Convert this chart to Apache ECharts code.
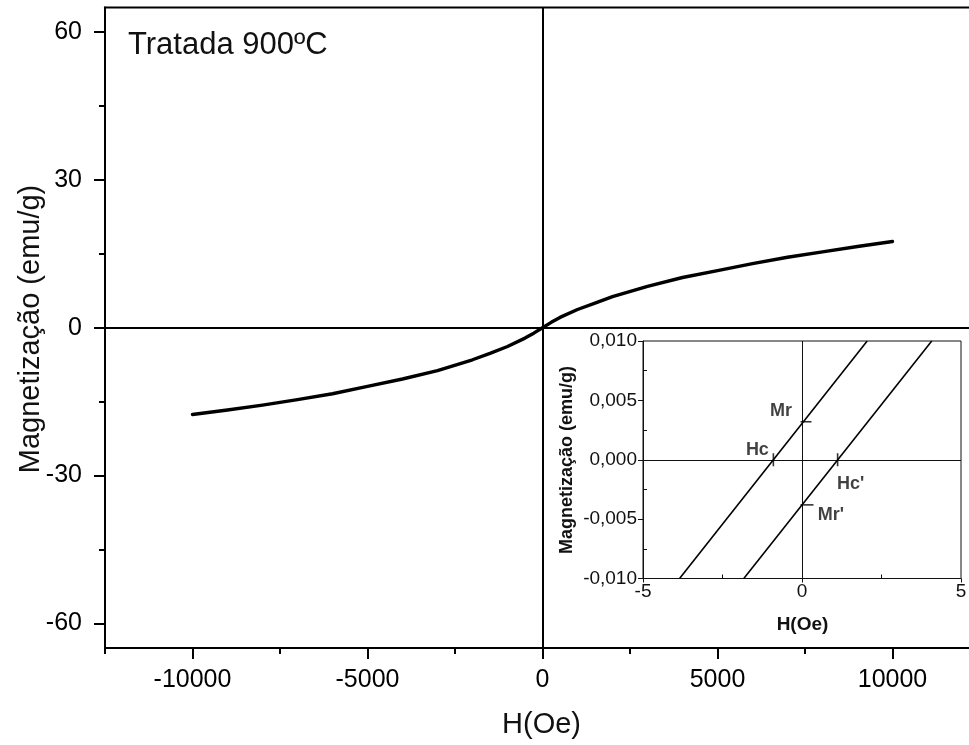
<!DOCTYPE html>
<html>
<head>
<meta charset="utf-8">
<script src="https://cdn.jsdelivr.net/npm/echarts@6/dist/echarts.min.js"></script>
<style>
html,body{margin:0;padding:0;background:#fff;}
#chart{width:969px;height:745px;}
</style>
</head>
<body>
<div id="chart"></div>
<script>
// ---- Main hysteresis curve (H in Oe, M in emu/g) ----
const mainH = [-10000,-9000,-8000,-7000,-6000,-5000,-4000,-3000,-2000,-1500,-1000,-500,-250,0,250,500,1000,1500,2000,3000,4000,5000,6000,7000,8000,9000,10000];
const mainM = [-17.6,-16.7,-15.7,-14.6,-13.4,-11.9,-10.4,-8.7,-6.5,-5.2,-3.8,-2.1,-1.1,0,1.1,2.1,3.7,5.0,6.3,8.4,10.2,11.6,13.0,14.3,15.4,16.5,17.5];
const mainXMajor = [-10000,-5000,0,5000,10000];
const mainXMinor = [-12500,-7500,-2500,2500,7500,12500];
const mainYMajor = [-60,-30,0,30,60];
const mainYMinor = [-45,-15,15,45];

// ---- Inset (zoom near origin) ----
const insetBranch1H = [-3.85, 2.05];
const insetBranch1M = [-0.010, 0.010];
const insetBranch2H = [-1.83, 4.08];
const insetBranch2M = [-0.010, 0.010];
const insetXMajor = [-5, 0, 5];
const insetXMinor = [-2.5, 2.5];
const insetYMajor = [-0.010, -0.005, 0, 0.005, 0.010];
const insetYMinor = [-0.0075, -0.0025, 0.0025, 0.0075];
const markerNames = ['Hc', 'Mr', "Hc'", "Mr'"];
const markerH = [-0.9, 0, 1.12, 0];
const markerM = [0, 0.0032, 0, -0.0038];

const FONT = '"Liberation Sans", Arial, sans-serif';
const zip = (a, b) => a.map((v, i) => [v, b[i]]);

const chart = echarts.init(document.getElementById('chart'), null, {renderer: 'canvas'});

const markerSym = [
  {symbol: 'rect', symbolSize: [1.6, 13], symbolOffset: [0, 0]},
  {symbol: 'rect', symbolSize: [11, 1.6], symbolOffset: [4, 0]},
  {symbol: 'rect', symbolSize: [1.6, 13], symbolOffset: [0, 0]},
  {symbol: 'rect', symbolSize: [13, 1.6], symbolOffset: [5, 0]}
];
const labelOffsets = [[-16, -10], [-21, -11], [13, 24], [29, 10]];

const plainFmt = v => String(v);

const option = {
  animation: false,
  backgroundColor: '#fff',
  grid: [
    {left: 105, top: 7.5, width: 875, bottom: 97, containLabel: false, outerBoundsMode: 'none',
      show: true, borderColor: '#000', borderWidth: 2, backgroundColor: 'transparent'},
    {left: 643, top: 341, width: 318, height: 237.5, containLabel: false, outerBoundsMode: 'none',
      show: true, borderColor: '#111', borderWidth: 1, backgroundColor: '#fff', z: 5}
  ],
  xAxis: [
    {
      gridIndex: 0, type: 'value', min: -12500, max: 12500, position: 'bottom',
      axisLine: {show: true, onZero: false, lineStyle: {color: '#000', width: 2}},
      axisTick: {show: true, inside: false, length: 11, lineStyle: {color: '#000', width: 2}, customValues: mainXMajor},
      axisLabel: {show: true, customValues: mainXMajor, formatter: plainFmt, margin: 20, fontSize: 25, color: '#000', fontFamily: FONT},
      splitLine: {show: false}
    },
    {
      gridIndex: 0, type: 'value', min: -12500, max: 12500, position: 'bottom',
      axisLine: {show: false, onZero: false},
      axisTick: {show: true, inside: false, length: 6, lineStyle: {color: '#000', width: 2}, customValues: mainXMinor},
      axisLabel: {show: false},
      splitLine: {show: false}
    },
    {
      gridIndex: 1, type: 'value', min: -5, max: 5, position: 'bottom',
      axisLine: {show: true, onZero: false, lineStyle: {color: '#111', width: 1}},
      axisTick: {show: true, inside: false, length: 4, lineStyle: {color: '#111', width: 1}, customValues: insetXMajor},
      axisLabel: {show: true, customValues: insetXMajor, formatter: plainFmt, margin: 4, fontSize: 19, color: '#111', fontFamily: FONT},
      splitLine: {show: false}, z: 6
    },
    {
      gridIndex: 1, type: 'value', min: -5, max: 5, position: 'bottom',
      axisLine: {show: false, onZero: false},
      axisTick: {show: true, inside: true, length: 4, lineStyle: {color: '#111', width: 1}, customValues: insetXMinor},
      axisLabel: {show: false},
      splitLine: {show: false}, z: 6
    }
  ],
  yAxis: [
    {
      gridIndex: 0, type: 'value', min: -65, max: 65, position: 'left',
      axisLine: {show: true, onZero: false, lineStyle: {color: '#000', width: 2}},
      axisTick: {show: true, inside: false, length: 11, lineStyle: {color: '#000', width: 2}, customValues: mainYMajor},
      axisLabel: {show: true, customValues: mainYMajor, formatter: plainFmt, margin: 23, fontSize: 25, color: '#000', fontFamily: FONT},
      splitLine: {show: false}
    },
    {
      gridIndex: 0, type: 'value', min: -65, max: 65, position: 'left',
      axisLine: {show: false, onZero: false},
      axisTick: {show: true, inside: false, length: 6, lineStyle: {color: '#000', width: 2}, customValues: mainYMinor},
      axisLabel: {show: false},
      splitLine: {show: false}
    },
    {
      gridIndex: 1, type: 'value', min: -0.010, max: 0.010, position: 'left',
      axisLine: {show: true, onZero: false, lineStyle: {color: '#111', width: 1}},
      axisTick: {show: true, inside: false, length: 5, lineStyle: {color: '#111', width: 1}, customValues: insetYMajor},
      axisLabel: {
        show: true, customValues: insetYMajor, margin: 6, fontSize: 19, color: '#111', fontFamily: FONT,
        formatter: v => { const s = Math.abs(v) < 1e-9 ? '0.000' : v.toFixed(3); return s.replace('.', ','); }
      },
      splitLine: {show: false}, z: 6
    },
    {
      gridIndex: 1, type: 'value', min: -0.010, max: 0.010, position: 'left',
      axisLine: {show: false, onZero: false},
      axisTick: {show: true, inside: true, length: 4, lineStyle: {color: '#111', width: 1}, customValues: insetYMinor},
      axisLabel: {show: false},
      splitLine: {show: false}, z: 6
    }
  ],
  series: [
    {
      type: 'line', xAxisIndex: 0, yAxisIndex: 0,
      data: zip(mainH, mainM), showSymbol: false, smooth: false,
      lineStyle: {color: '#000', width: 3.4, join: 'round', cap: 'round'}, z: 3,
      markLine: {
        silent: true, symbol: 'none', animation: false,
        lineStyle: {color: '#000', width: 2, type: 'solid'},
        label: {show: false},
        data: [{xAxis: 0}, {yAxis: 0}]
      }
    },
    {
      type: 'line', xAxisIndex: 2, yAxisIndex: 2,
      data: zip(insetBranch1H, insetBranch1M), showSymbol: false,
      lineStyle: {color: '#000', width: 1.6}, z: 8,
      markLine: {
        silent: true, symbol: 'none', animation: false,
        lineStyle: {color: '#111', width: 1, type: 'solid'},
        label: {show: false},
        data: [{xAxis: 0}, {yAxis: 0}]
      }
    },
    {
      type: 'line', xAxisIndex: 2, yAxisIndex: 2,
      data: zip(insetBranch2H, insetBranch2M), showSymbol: false,
      lineStyle: {color: '#000', width: 1.6}, z: 8
    },
    {
      type: 'scatter', xAxisIndex: 2, yAxisIndex: 2, z: 9, silent: true,
      data: markerH.map((h, i) => Object.assign({value: [h, markerM[i]], itemStyle: {color: '#000'}}, markerSym[i]))
    },
    {
      type: 'scatter', xAxisIndex: 2, yAxisIndex: 2, z: 9, silent: true,
      symbolSize: 1, itemStyle: {color: 'rgba(0,0,0,0)'},
      data: markerH.map((h, i) => ({
        value: [h, markerM[i]], name: markerNames[i],
        label: {show: true, position: 'inside', offset: labelOffsets[i], formatter: markerNames[i],
          fontSize: 18, fontWeight: 'bold', color: '#111', fontFamily: FONT}
      }))
    }
  ],
  graphic: [
    {type: 'text', left: 128, top: 30, z: 10,
      style: {text: 'Tratada 900ºC', font: '31px ' + FONT, fill: '#111'}},
    {type: 'text', x: 541.5, y: 725, z: 10,
      style: {text: 'H(Oe)', font: '29px ' + FONT, fill: '#111', align: 'center', verticalAlign: 'middle'}},
    {type: 'text', x: 31, y: 329, rotation: Math.PI / 2, z: 10,
      style: {text: 'Magnetização (emu/g)', font: '29px ' + FONT, fill: '#111', align: 'center', verticalAlign: 'middle'}},
    {type: 'text', x: 802.5, y: 625, z: 10,
      style: {text: 'H(Oe)', font: 'bold 19px ' + FONT, fill: '#111', align: 'center', verticalAlign: 'middle'}},
    {type: 'text', x: 567, y: 460, rotation: Math.PI / 2, z: 10,
      style: {text: 'Magnetização (emu/g)', font: 'bold 18px ' + FONT, fill: '#111', align: 'center', verticalAlign: 'middle'}}
  ]
};

chart.setOption(option);
</script>
</body>
</html>
